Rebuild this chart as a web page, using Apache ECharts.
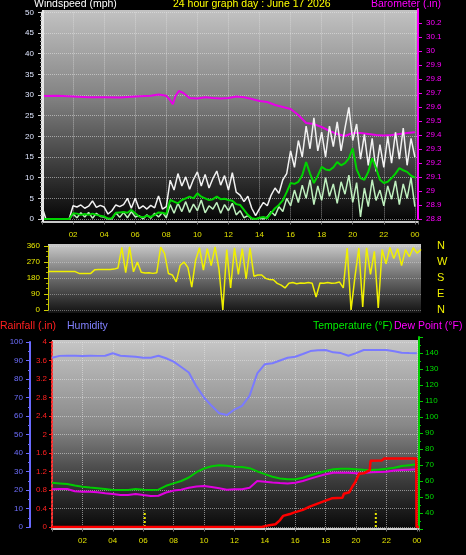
<!DOCTYPE html>
<html><head><meta charset="utf-8">
<script src="https://cdn.jsdelivr.net/npm/echarts@6/dist/echarts.min.js"></script>
<style>html,body{margin:0;padding:0;background:#000;}#c{width:466px;height:555px;}</style>
</head><body><div id="c"></div>
<script>
// ---- DATA ----
const windGust = [3,0,0,0,0,0,0,0,
3.2,2.9,3.4,2.6,3.1,4.4,2.8,3.3,
2.9,1.2,2.0,3.4,3.0,3.5,5.0,2.6,
5.0,2.5,3.2,2.4,3.3,2.7,5.6,2.4,
3.0,9.4,7.0,11.0,8.0,10.2,7.2,9.6,
11.4,8.0,10.8,7.5,9.8,11.6,8.2,10.5,
7.0,11.2,6.5,5.8,4.2,5.5,2.6,0.8,
2.5,4.0,3.2,5.8,7.5,6.2,9.5,11.0,
16.5,12.5,19.0,15.0,22.5,17.0,24.5,16.5,
21.0,15.0,22.5,17.5,23.5,16.5,22.0,27.0,
19.0,23.0,14.5,20.5,13.0,19.5,11.5,18.0,
12.5,20.0,13.5,21.0,14.5,22.0,13.0,19.5,
15.0];
const windAvg = [0,0,0,0,0,0,0,0,
1.4,1.3,1.0,1.2,1.0,1.3,1.0,0.8,
0.6,0.1,0.2,1.5,1.6,1.7,1.5,2.2,
1.4,0.6,0.4,0.8,0.5,1.0,1.6,1.5,
1.2,4.6,4.2,3.8,4.6,5.0,5.4,5.0,
6.2,5.4,5.0,4.6,4.8,5.4,4.8,4.9,
4.6,4.4,3.6,3.4,2.2,1.0,0.2,0,
0.3,0.5,0.2,1.5,2.6,3.4,4.5,6.5,
8.7,8.5,9.0,10.6,13.8,11.0,8.7,10.5,
12.6,12.0,11.8,12.5,13.8,13.0,13.5,14.7,
17.1,12.0,9.9,9.5,11.4,14.7,12.3,9.5,
8.7,9.0,9.9,11.0,12.3,11.8,11.4,10.5,
10.0];
const windSpeed = [0,0,0,0,0,0,0,0,
1.2,0.3,1.5,0.5,1.6,0.2,1.4,0.6,
0.5,0,0,1.5,0.4,1.6,0.3,1.8,
0.5,0.8,0,1.0,0.2,1.4,0.5,1.6,
0.3,3.5,1.4,3.8,1.8,4.2,1.6,3.6,
2.0,4.6,1.5,3.2,2.4,4.0,1.4,3.5,
2.0,3.8,1.0,2.0,0.3,0.8,0,0,
0.2,0,0.5,1.8,0.8,3.0,1.8,5.0,
3.2,7.0,4.0,8.2,5.0,9.5,3.5,8.0,
4.5,10.0,5.5,8.5,3.8,9.0,6.0,10.6,
4.0,8.8,0.5,7.5,3.0,9.5,4.5,7.0,
3.2,8.0,4.8,9.2,3.5,8.5,5.0,10.0,
3.0];
const windDir = [216,216,216,216,216,216,216,216,
206,206,206,206,226,228,228,228,
228,230,236,352,210,355,215,270,
212,208,210,206,210,354,318,205,
197,158,250,270,240,129,280,350,
225,345,250,355,230,0,340,124,
350,200,345,175,350,190,197,197,
178,172,170,150,140,124,150,155,
148,152,150,155,150,73,152,150,
155,150,152,158,124,349,0,186,
349,17,350,200,330,11,340,260,
352,290,345,250,340,300,350,320,
340];
const quarterHours = windGust.map((_, i) => i / 4);

const baroHours = [0,1,2,3,4,5,6,7,7.5,8.0,8.2,8.42,8.6,8.81,9.1,9.5,10,10.5,11,11.5,12,12.5,13,13.5,14,14.5,15,15.5,16,16.5,17,17.5,18,18.5,19,19.5,20,20.5,21,21.5,22,22.5,23,23.5,24];
const baroValues = [29.679,29.68,29.675,29.67,29.67,29.668,29.675,29.68,29.69,29.68,29.655,29.62,29.68,29.714,29.70,29.664,29.66,29.67,29.664,29.66,29.664,29.675,29.67,29.657,29.643,29.636,29.614,29.60,29.586,29.543,29.486,29.478,29.457,29.43,29.407,29.393,29.414,29.414,29.407,29.40,29.396,29.40,29.407,29.414,29.42];

const humidity = [91.5,92.5,92.6,92.6,92.4,92.6,92.5,92.6,93.9,92.6,92.3,92.0,91.5,91.5,92.6,91.2,89.4,86.5,83.5,76.0,70.0,65.5,61.5,60.5,63.5,65.5,71.0,83.0,88.0,88.5,90.0,91.5,92.0,93.5,95.1,95.5,95.7,94.4,94.0,92.6,94.0,95.7,95.7,95.7,95.7,95.0,94.2,94.0,93.9];
const temperature = [58.9,58.5,58.1,57.2,56.4,55.9,55.5,55.0,54.4,54.4,54.4,55.0,54.6,54.4,54.6,57.0,58.5,60.0,62.2,65.5,67.8,69.2,69.8,69.6,68.9,68.7,68.0,66.0,64.3,62.7,61.6,61.1,61.1,62.0,63.6,65.0,66.3,67.3,67.6,67.7,67.4,67.0,66.9,67.2,67.7,68.3,69.4,69.9,70.4];
const dewPoint = [54.8,55.0,55.0,53.6,53.3,53.3,53.0,52.4,51.9,51.3,51.3,51.9,51.2,50.6,50.8,52.8,54.0,54.6,55.8,56.6,56.9,56.2,55.4,54.6,54.8,54.8,55.8,60.0,59.5,59.0,58.7,58.5,58.9,60.0,61.5,62.9,64.2,65.2,65.2,65.2,64.9,65.0,65.4,65.6,65.8,66.5,66.9,67.1,67.3];
const halfHours = humidity.map((_, i) => i / 2);

const rainHours = [0,13.8,14.3,14.7,15.0,15.2,15.65,15.9,16.5,16.95,17.6,18.0,18.4,19.1,19.2,19.55,19.75,19.95,20.2,20.5,20.9,20.95,21.7,21.85,23.96,23.98,24.14];
const rainValues = [0,0,0.04,0.06,0.15,0.24,0.28,0.31,0.37,0.44,0.52,0.57,0.62,0.63,0.72,0.75,0.87,0.97,1.15,1.16,1.23,1.43,1.44,1.48,1.48,0,0];

const sunMarkers = [6.1, 21.3];
const sunMarkerHeight = 0.35;

const windTicks = {min:0, max:50, step:5};
const baroTicks = {min:28.8, max:30.3, step:0.1};
const dirLabels = {0:'N',90:'E',180:'S',270:'W',360:'N'};

// ---- CHART ----
const LF = '"Liberation Sans", Arial, sans-serif';
const dotted = {color:'rgba(230,230,230,0.55)', type:'dotted', width:1};
function hourLabel(v){
  if (v <= 0.01 || v > 24.01 || Math.abs(v - Math.round(v/2)*2) > 0.01) return '';
  const h = Math.round(v) % 24;
  return (h < 10 ? '0' : '') + h;
}
const pairs = (xs, ys) => ys.map((v, i) => [xs[i], v]);
const grad = (stops) => ({type:'linear', x:0, y:0, x2:0, y2:1, colorStops: stops.map(s => ({offset:s[0], color:s[1]}))});
const line = (o) => Object.assign({show:true, onZero:false}, o);

const chart = echarts.init(document.getElementById('c'), null, {renderer:'canvas'});
const option = {
  backgroundColor:'#000',
  animation:false,
  graphic:[
    {type:'rect', z:-100, shape:{x:42, y:10, width:376, height:212}, style:{fill:grad([[0,'#c2c2c2'],[0.4,'#848484'],[0.7,'#444444'],[1,'#040404']])}},
    {type:'rect', z:-100, shape:{x:48, y:244, width:373, height:69}, style:{fill:grad([[0,'#cacaca'],[0.5,'#6a6a6a'],[1,'#121212']])}},
    {type:'rect', z:-100, shape:{x:52, y:340, width:368, height:189}, style:{fill:grad([[0,'#c6c6c6'],[0.45,'#888888'],[0.75,'#3a3a3a'],[1,'#080808']])}},
    {type:'rect', z:100, shape:{x:42, y:10, width:2, height:212}, style:{fill:'#e8e8e8'}},
    {type:'text', x:34, y:-1, style:{text:'Windspeed (mph)', fill:'#ffffff', font:'10.5px ' + LF}},
    {type:'text', x:173, y:-1, style:{text:'24 hour graph day : June 17 2026', fill:'#ffff00', font:'10.5px ' + LF}},
    {type:'text', x:371, y:-1, style:{text:'Barometer (.in)', fill:'#ff00ff', font:'10.5px ' + LF}},
    {type:'text', x:0, y:321, style:{text:'Rainfall (.in)', fill:'#ff2020', font:'10.5px ' + LF}},
    {type:'text', x:67, y:321, style:{text:'Humidity', fill:'#8080ff', font:'10.5px ' + LF}},
    {type:'text', x:313, y:321, style:{text:'Temperature (°F)', fill:'#00ee00', font:'10.5px ' + LF}},
    {type:'text', x:394, y:321, style:{text:'Dew Point (°F)', fill:'#ff00ff', font:'10.5px ' + LF}}
  ],
  grid:[
    {left:42, top:12.4, width:376, height:206.6},
    {left:42, top:9, width:376, height:210},
    {left:48, top:246, width:373, height:64},
    {left:52, top:342, width:367, height:185},
    {left:52, top:337, width:367, height:192}
  ],
  xAxis:[
    {gridIndex:0, type:'value', min:0, max:24.2, interval:2, offset:2.5,
     axisLine:line({lineStyle:{color:'#c8c8c8', width:2}}),
     axisTick:{show:true, length:3, lineStyle:{color:'#777'}},
     axisLabel:{color:'#e0e000', fontSize:8, fontFamily:LF, margin:9, formatter:hourLabel},
     splitLine:{show:true, lineStyle:dotted}},
    {gridIndex:1, type:'value', min:0, max:24.2, show:false},
    {gridIndex:2, type:'value', min:0, max:24, show:false},
    {gridIndex:3, type:'value', min:0, max:24.14, interval:2, offset:1.5,
     axisLine:line({lineStyle:{color:'#d0d0d0', width:2}}),
     axisTick:{show:true, length:3, lineStyle:{color:'#777'}},
     axisLabel:{color:'#e0e000', fontSize:8, fontFamily:LF, margin:8, formatter:hourLabel},
     splitLine:{show:true, lineStyle:dotted}},
    {gridIndex:4, type:'value', min:0, max:24.14, show:false}
  ],
  yAxis:[
    {gridIndex:0, type:'value', min:windTicks.min, max:windTicks.max, interval:windTicks.step, position:'left',
     axisLine:line({lineStyle:{color:'#e8e8e8', width:2}}),
     axisTick:{show:true, length:4, lineStyle:{color:'#cccccc'}},
     minorTick:{show:true, splitNumber:5, length:2, lineStyle:{color:'#aaaaaa'}},
     axisLabel:{color:'#dfe6ff', fontSize:8, fontFamily:LF, margin:8},
     splitLine:{show:true, lineStyle:dotted}},
    {gridIndex:1, type:'value', min:baroTicks.min, max:baroTicks.max, interval:baroTicks.step, position:'right',
     axisLine:line({lineStyle:{color:'#ff00ff', width:2}}),
     axisTick:{show:true, length:4, lineStyle:{color:'#ee00ee'}},
     axisLabel:{color:'#ff00ff', fontSize:8, fontFamily:LF, margin:8, showMaxLabel:false,
       formatter:v => v > 30.25 ? '' : String(+v.toFixed(1))},
     splitLine:{show:false}},
    {gridIndex:2, type:'value', min:0, max:360, interval:90, position:'left',
     axisLine:line({lineStyle:{color:'#cccc00', width:1}}),
     axisTick:{show:true, length:4, lineStyle:{color:'#cccc00'}},
     minorTick:{show:true, splitNumber:3, length:2, lineStyle:{color:'#aaaa00'}},
     axisLabel:{color:'#e8e800', fontSize:8, fontFamily:LF, margin:8},
     splitLine:{show:true, lineStyle:{color:'rgba(230,230,230,0.4)', type:'dotted'}}},
    {gridIndex:2, type:'value', min:0, max:360, interval:90, position:'right',
     axisLine:{show:false, onZero:false}, axisTick:{show:false}, splitLine:{show:false},
     axisLabel:{color:'#f0f000', fontSize:11, fontFamily:LF, margin:16, formatter:v => dirLabels[v] || ''}},
    {gridIndex:3, type:'value', min:0, max:100, interval:10, position:'left', offset:22,
     axisLine:line({lineStyle:{color:'#6a6aff', width:2}}),
     axisTick:{show:true, length:4, lineStyle:{color:'#6a6aff'}},
     minorTick:{show:true, splitNumber:2, length:2, lineStyle:{color:'#6a6aff'}},
     axisLabel:{color:'#6f6fff', fontSize:8, fontFamily:LF, margin:7},
     splitLine:{show:false}},
    {gridIndex:3, type:'value', min:0, max:4, interval:0.4, position:'left',
     axisLine:line({lineStyle:{color:'#ff3030', width:2, type:[2,2]}}),
     axisTick:{show:true, length:3, lineStyle:{color:'#ff2020'}},
     axisLabel:{color:'#ff2020', fontSize:8, fontFamily:LF, margin:5, formatter:v => String(+v.toFixed(1))},
     splitLine:{show:true, lineStyle:dotted}},
    {gridIndex:4, type:'value', min:30, max:150, interval:10, position:'right',
     axisLine:line({lineStyle:{color:'#00cc00', width:2}}),
     axisTick:{show:true, length:4, lineStyle:{color:'#00cc00'}},
     minorTick:{show:true, splitNumber:2, length:2, lineStyle:{color:'#00cc00'}},
     axisLabel:{color:'#00dd00', fontSize:8, fontFamily:LF, margin:6, showMinLabel:false, showMaxLabel:false},
     splitLine:{show:false}}
  ],
  series:[
    {type:'line', xAxisIndex:1, yAxisIndex:1, data:pairs(baroHours, baroValues), showSymbol:false, lineStyle:{color:'#e800e8', width:2}},
    {type:'line', xAxisIndex:0, yAxisIndex:0, data:pairs(quarterHours, windGust), showSymbol:false, lineStyle:{color:'#f2f2f2', width:1.5}},
    {type:'line', xAxisIndex:0, yAxisIndex:0, data:pairs(quarterHours, windSpeed), showSymbol:false, lineStyle:{color:'#bff0bf', width:1.5}},
    {type:'line', xAxisIndex:0, yAxisIndex:0, data:pairs(quarterHours, windAvg), showSymbol:false, lineStyle:{color:'#00d400', width:2}},
    {type:'line', xAxisIndex:2, yAxisIndex:2, data:pairs(quarterHours, windDir), showSymbol:false, lineStyle:{color:'#f0f000', width:1.5}},
    {type:'line', xAxisIndex:3, yAxisIndex:4, data:pairs(halfHours, humidity), showSymbol:false, lineStyle:{color:'#7a7aff', width:2}},
    {type:'line', xAxisIndex:4, yAxisIndex:6, data:pairs(halfHours, temperature), showSymbol:false, lineStyle:{color:'#00cc00', width:2}},
    {type:'line', xAxisIndex:4, yAxisIndex:6, data:pairs(halfHours, dewPoint), showSymbol:false, lineStyle:{color:'#e000e0', width:2}},
    ...sunMarkers.map(h => ({type:'line', xAxisIndex:3, yAxisIndex:5, data:[[h,0],[h,sunMarkerHeight]], showSymbol:false, lineStyle:{color:'#e8e800', width:2, type:[2,2]}})),
    {type:'line', xAxisIndex:3, yAxisIndex:5, data:pairs(rainHours, rainValues), showSymbol:false, lineStyle:{color:'#ff0000', width:2.5}}
  ]
};
chart.setOption(option);
</script>
</body></html>
